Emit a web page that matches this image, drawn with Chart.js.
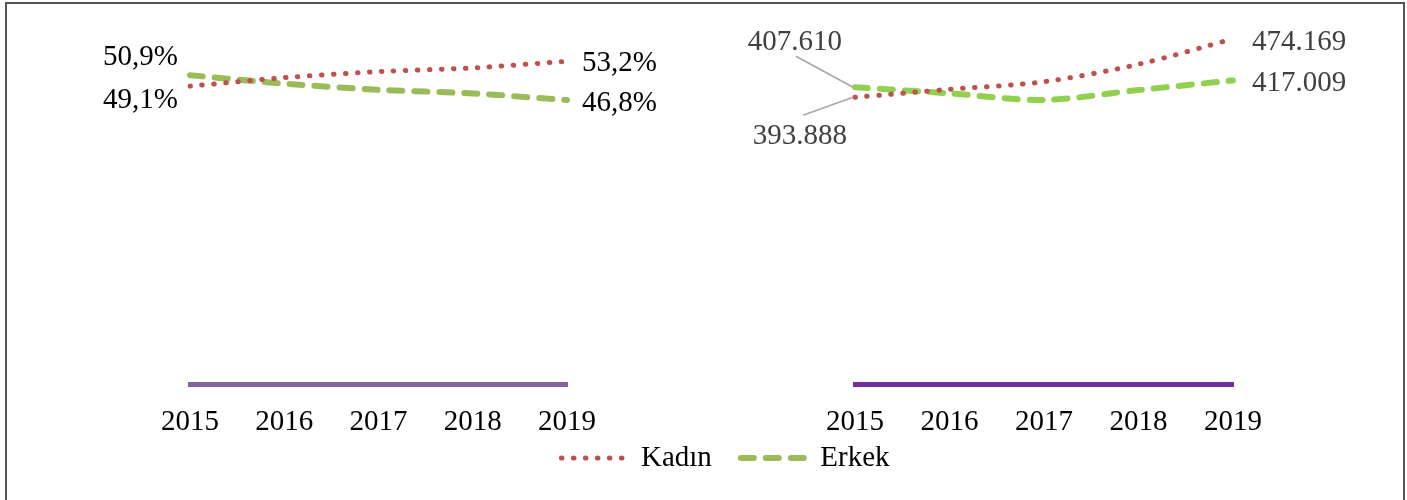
<!DOCTYPE html>
<html>
<head>
<meta charset="utf-8">
<script src="https://cdn.jsdelivr.net/npm/chart.js@4.4.0/dist/chart.umd.min.js"></script>
<style>
  html, body { margin: 0; padding: 0; background: #fff; }
  #wrap { position: relative; width: 1407px; height: 500px; overflow: hidden; }
  #wrap canvas { position: absolute; left: 0; top: 0; }
  #wrap #lejant { top: 400px; }
  #frame { position: absolute; left: 5px; top: 2px; width: 1400px; height: 520px; border: 2px solid #555; box-sizing: border-box; pointer-events: none; }
</style>
</head>
<body>
<div id="wrap">
  <canvas id="oran" width="1407" height="500"></canvas>
  <canvas id="sayi" width="1407" height="500"></canvas>
  <canvas id="lejant" width="1407" height="120"></canvas>
  <div id="frame"></div>
</div>
<script>
// veriler
const years = ['2015', '2016', '2017', '2018', '2019'];
const kadinOran = [49.1, 50.5, 51.5, 52.1, 53.2];
const erkekOran = [50.9, 49.5, 48.5, 47.9, 46.8];
const kadinSayi = [393888, 404800, 415200, 439200, 474169];
const erkekSayi = [407610, 399300, 390100, 403800, 417009];
const seriler = ['Kadın', 'Erkek'];

const serif = '"Liberation Serif", "Times New Roman", serif';
const RED = '#C0504D';

function fmtOran(v) {
  return v.toFixed(1).replace('.', ',') + '%';
}
function fmtSayi(v) {
  return String(Math.round(v)).replace(/\B(?=(\d{3})+(?!\d))/g, '.');
}

// nokta etiketleri (+ kilavuz cizgileri)
const pointLabels = {
  id: 'pointLabels',
  afterDatasetsDraw(chart, args, opts) {
    if (!opts.items) return;
    const ctx = chart.ctx;
    ctx.save();
    opts.items.forEach(function (it) {
      const pt = chart.getDatasetMeta(it.ds).data[it.i];
      const v = chart.data.datasets[it.ds].data[it.i];
      const x = pt.x + it.dx, y = pt.y + it.dy;
      if (it.lead) {
        ctx.strokeStyle = '#A6A6A6';
        ctx.lineWidth = 1.5;
        ctx.beginPath();
        ctx.moveTo(x + it.lead[0], y + it.lead[1]);
        ctx.lineTo(pt.x - 2, pt.y);
        ctx.stroke();
      }
      ctx.font = '29px ' + serif;
      ctx.fillStyle = opts.color;
      ctx.textAlign = it.align;
      ctx.textBaseline = 'middle';
      ctx.fillText(opts.format(v), x, y);
    });
    ctx.restore();
  }
};

function hiddenY(extra) {
  return Object.assign({
    display: true,
    grid: { display: false, drawTicks: false },
    border: { display: false },
    ticks: { display: false }
  }, extra);
}

function kadinSet(data, tension) {
  return {
    label: seriler[0], data: data, borderColor: RED, borderWidth: 5,
    borderDash: [0.5, 11.5], borderCapStyle: 'round', pointRadius: 0, tension: tension
  };
}
function erkekSet(data, color, tension) {
  return {
    label: seriler[1], data: data, borderColor: color, borderWidth: 6,
    borderDash: [13, 12], borderCapStyle: 'round', pointRadius: 0, tension: tension
  };
}

function xAxis(color) {
  return {
    grid: { display: false, drawTicks: false },
    border: { display: true, color: color, width: 5 },
    ticks: { color: '#000', padding: 21, font: { family: serif, size: 29 } },
    afterFit: function (s) { s.height = 116; }
  };
}

// sol grafik: oranlar
new Chart(document.getElementById('oran'), {
  type: 'line',
  data: {
    labels: years,
    datasets: [kadinSet(kadinOran, 0.2), erkekSet(erkekOran, '#9BBB59', 0.2)]
  },
  options: {
    responsive: false,
    animation: false,
    layout: { padding: { top: 20 } },
    plugins: {
      tooltip: { enabled: false },
      legend: { display: false },
      pointLabels: {
        color: '#000',
        format: fmtOran,
        items: [
          { ds: 1, i: 0, dx: -12, dy: -18, align: 'right' },
          { ds: 0, i: 0, dx: -12, dy: 14, align: 'right' },
          { ds: 0, i: 4, dx: 15, dy: 2, align: 'left' },
          { ds: 1, i: 4, dx: 15, dy: 3, align: 'left' }
        ]
      }
    },
    scales: {
      x: xAxis('#8064A2'),
      y: hiddenY({ min: 0, max: 60, afterFit: function (s) { s.width = 190; } }),
      y2: hiddenY({ position: 'right', afterFit: function (s) { s.width = 1407 - 567; } })
    }
  },
  plugins: [pointLabels]
});

// sag grafik: kisi sayilari
new Chart(document.getElementById('sayi'), {
  type: 'line',
  data: {
    labels: years,
    datasets: [kadinSet(kadinSayi, 0.3), erkekSet(erkekSayi, '#92D050', 0.3)]
  },
  options: {
    responsive: false,
    animation: false,
    layout: { padding: { top: 20 } },
    plugins: {
      tooltip: { enabled: false },
      legend: { display: false },
      pointLabels: {
        color: '#404040',
        format: fmtSayi,
        items: [
          { ds: 1, i: 0, dx: -13, dy: -45, align: 'right', lead: [-46, 14] },
          { ds: 0, i: 0, dx: -8, dy: 39, align: 'right', lead: [-44, -21] },
          { ds: 0, i: 4, dx: 19, dy: 4, align: 'left' },
          { ds: 1, i: 4, dx: 19, dy: 3, align: 'left' }
        ]
      }
    },
    scales: {
      x: xAxis('#7030A0'),
      y: hiddenY({ min: 0, max: 500000, afterFit: function (s) { s.width = 855; } }),
      y2: hiddenY({ position: 'right', afterFit: function (s) { s.width = 1407 - 1233; } })
    }
  },
  plugins: [pointLabels]
});

// ortak lejant
new Chart(document.getElementById('lejant'), {
  type: 'line',
  data: {
    labels: years,
    datasets: [kadinSet([], 0), erkekSet([], '#9BBB59', 0)]
  },
  options: {
    responsive: false,
    animation: false,
    layout: { padding: { left: 44, top: 14.5 } },
    scales: { x: { display: false }, y: { display: false } },
    plugins: {
      tooltip: { enabled: false },
      legend: {
        position: 'top',
        labels: {
          usePointStyle: true,
          pointStyleWidth: 65,
          padding: 29,
          color: '#000',
          font: { family: serif, size: 29 },
          generateLabels: function (chart) {
            return chart.data.datasets.map(function (d, i) {
              return {
                text: d.label, datasetIndex: i, hidden: false,
                fillStyle: d.borderColor, strokeStyle: d.borderColor,
                lineWidth: d.borderWidth, lineDash: d.borderDash, lineCap: 'round',
                pointStyle: 'line', fontColor: '#000'
              };
            });
          }
        }
      }
    }
  }
});
</script>
</body>
</html>
